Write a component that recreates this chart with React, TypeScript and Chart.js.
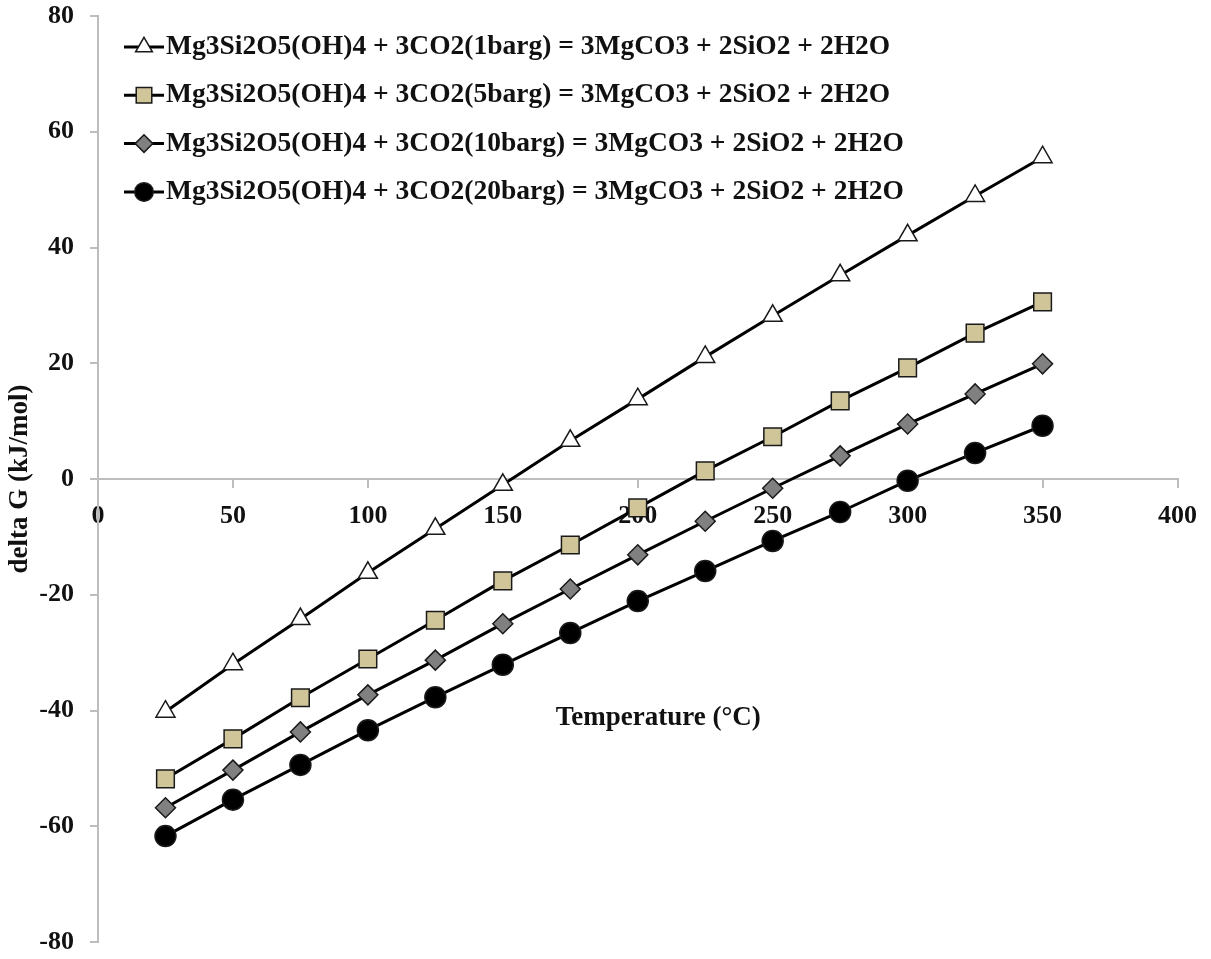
import React, { useEffect, useRef } from 'react';
import { Chart, registerables } from 'chart.js';
import { drawPoint } from 'chart.js/helpers';

Chart.register(...registerables);

// ---- data ----
const temperatures = [25, 50, 75, 100, 125, 150, 175, 200, 225, 250, 275, 300, 325, 350];
const seriesLabels = [
  'Mg3Si2O5(OH)4 + 3CO2(1barg) = 3MgCO3 + 2SiO2 + 2H2O',
  'Mg3Si2O5(OH)4 + 3CO2(5barg) = 3MgCO3 + 2SiO2 + 2H2O',
  'Mg3Si2O5(OH)4 + 3CO2(10barg) = 3MgCO3 + 2SiO2 + 2H2O',
  'Mg3Si2O5(OH)4 + 3CO2(20barg) = 3MgCO3 + 2SiO2 + 2H2O',
];
const dG1barg = [-40.2, -32.0, -24.2, -16.2, -8.6, -1.0, 6.6, 13.8, 21.1, 28.2, 35.2, 42.1, 48.9, 55.6];
const dG5barg = [-51.8, -44.9, -37.8, -31.1, -24.4, -17.6, -11.4, -5.0, 1.4, 7.3, 13.5, 19.2, 25.2, 30.6];
const dG10barg = [-56.8, -50.3, -43.7, -37.3, -31.3, -25.0, -19.0, -13.1, -7.3, -1.6, 4.0, 9.5, 14.7, 19.9];
const dG20barg = [-61.7, -55.4, -49.4, -43.4, -37.7, -32.1, -26.6, -21.1, -15.9, -10.7, -5.7, -0.3, 4.5, 9.2];
const xAxisRange = [0, 400];
const xTickStep = 50;
const yAxisRange = [-80, 80];
const yTickStep = 20;
const xTitle = 'Temperature (°C)';
const yTitle = 'delta G (kJ/mol)';

const FONT = '"Liberation Serif", "Times New Roman", Times, serif';
const AXIS_GREY = '#bdbdbd';

const seriesStyles = [
  { pointStyle: 'triangle', radius: 11, fill: '#ffffff' },
  { pointStyle: 'rect', radius: 12.5, fill: '#cfc598' },
  { pointStyle: 'rectRot', radius: 10, fill: '#808080' },
  { pointStyle: 'circle', radius: 10.5, fill: '#000000' },
];

const lineLegendPlugin = {
  id: 'lineLegend',
  afterDraw(chart: any) {
    const { ctx, chartArea } = chart;
    ctx.save();
    const x0 = chartArea.left + 26;
    let y = chartArea.top + 31;
    chart.data.datasets.forEach((ds: any) => {
      ctx.strokeStyle = '#000';
      ctx.lineWidth = 3;
      ctx.beginPath();
      ctx.moveTo(x0, y);
      ctx.lineTo(x0 + 40, y);
      ctx.stroke();
      ctx.fillStyle = ds.pointBackgroundColor;
      ctx.strokeStyle = ds.pointBorderColor;
      ctx.lineWidth = 1.5;
      drawPoint(ctx, { pointStyle: ds.pointStyle, radius: ds.pointRadius * 0.88, borderWidth: 1.5, rotation: 0 }, x0 + 20, y);
      ctx.fillStyle = '#111';
      ctx.font = `bold 27.5px ${FONT}`;
      ctx.textAlign = 'left';
      ctx.textBaseline = 'middle';
      ctx.fillText(ds.label, x0 + 42, y);
      y += 48.3;
    });
    ctx.restore();
  },
};

const xTitlePlugin = {
  id: 'xTitleInside',
  afterDraw(chart: any) {
    const { ctx, chartArea } = chart;
    ctx.save();
    ctx.fillStyle = '#111';
    ctx.font = `bold 27px ${FONT}`;
    ctx.textAlign = 'center';
    ctx.textBaseline = 'middle';
    const cx = chartArea.left + chartArea.width * 0.519;
    const cy = chartArea.top + chartArea.height * 0.758;
    ctx.fillText(xTitle, cx, cy);
    ctx.restore();
  },
};

export default function App() {
  const canvasRef = useRef<HTMLCanvasElement | null>(null);

  useEffect(() => {
    if (!canvasRef.current) return;
    const seriesValues = [dG1barg, dG5barg, dG10barg, dG20barg];
    const chart = new Chart(canvasRef.current, {
      type: 'line',
      data: {
        datasets: seriesValues.map((vals, i) => ({
          label: seriesLabels[i],
          data: temperatures.map((t, j) => ({ x: t, y: vals[j] })),
          borderColor: '#000',
          borderWidth: 3,
          pointStyle: seriesStyles[i].pointStyle as any,
          pointRadius: seriesStyles[i].radius,
          pointHoverRadius: seriesStyles[i].radius,
          pointBackgroundColor: seriesStyles[i].fill,
          pointBorderColor: '#1a1a1a',
          pointBorderWidth: 1.5,
          tension: 0,
          fill: false,
        })),
      },
      options: {
        animation: false,
        responsive: true,
        maintainAspectRatio: false,
        layout: { padding: { left: 0, right: 31, top: 0, bottom: 0 } },
        plugins: {
          legend: { display: false },
          tooltip: { enabled: false },
        },
        scales: {
          x: {
            type: 'linear',
            min: xAxisRange[0],
            max: xAxisRange[1],
            position: { y: 0 } as any,
            ticks: {
              stepSize: xTickStep,
              color: '#111',
              padding: 14,
              maxRotation: 0,
              font: { family: FONT, size: 26, weight: 'bold' },
            },
            grid: { drawOnChartArea: false, drawTicks: true, tickLength: 8, color: AXIS_GREY, lineWidth: 2 },
            border: { display: true, color: AXIS_GREY, width: 2 },
            afterFit: (scale: any) => {
              scale.paddingTop = 0;
              scale.paddingBottom = 0;
            },
          },
          y: {
            type: 'linear',
            min: yAxisRange[0],
            max: yAxisRange[1],
            ticks: {
              stepSize: yTickStep,
              color: '#111',
              padding: 16,
              font: { family: FONT, size: 26, weight: 'bold' },
            },
            grid: { drawOnChartArea: false, drawTicks: true, tickLength: 8, color: AXIS_GREY, lineWidth: 2 },
            border: { display: true, color: AXIS_GREY, width: 2 },
            title: {
              display: true,
              text: yTitle,
              color: '#111',
              font: { family: FONT, size: 27, weight: 'bold' },
              padding: { top: 4, bottom: 0 },
            },
            afterFit: (scale: any) => {
              scale.width = 98;
              scale.paddingTop = 16;
              scale.paddingBottom = 17;
            },
          },
        },
      },
      plugins: [lineLegendPlugin, xTitlePlugin],
    });
    return () => chart.destroy();
  }, []);

  return (
    <div style={{ position: 'absolute', left: 0, top: 0, width: 1211, height: 959 }}>
      <canvas ref={canvasRef} />
    </div>
  );
}
